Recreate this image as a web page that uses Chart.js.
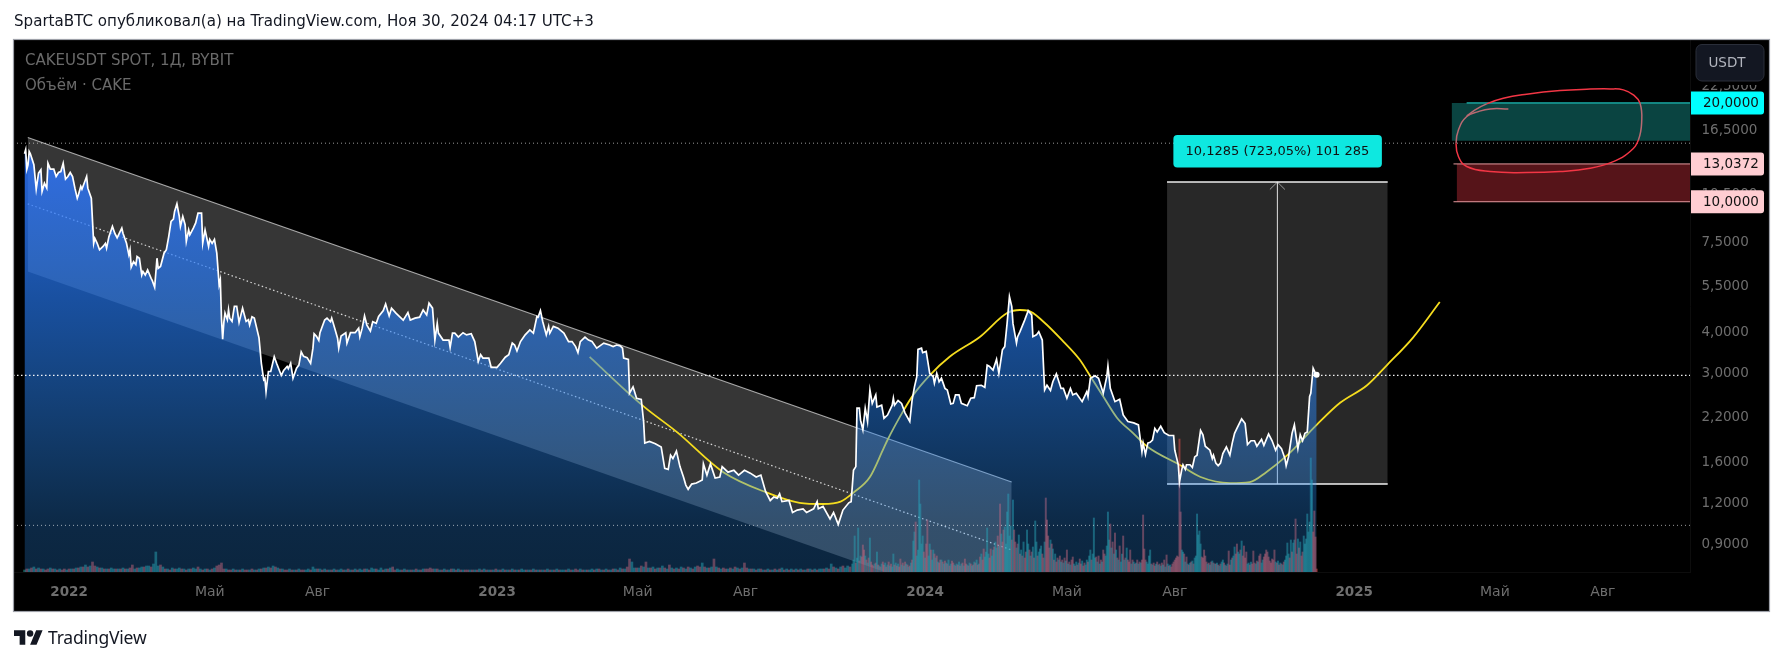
<!DOCTYPE html>
<html>
<head>
<meta charset="utf-8">
<title>CAKEUSDT</title>
<script src="https://cdn.jsdelivr.net/npm/chart.js@4/dist/chart.umd.min.js"></script>
<style>
  html, body { margin: 0; padding: 0; background: #fff; }
  #wrap { position: relative; width: 1784px; height: 662px; overflow: hidden; }
  canvas { position: absolute; left: 0; top: 0; }
  #head { position: absolute; left: 14px; top: 12px; font: 15.1px "DejaVu Sans", sans-serif; color: #131722; white-space: nowrap; }
  #logo { position: absolute; left: 14px; top: 629px; width: 29px; height: 17px; }
  #brand { position: absolute; left: 48px; top: 625px; font: 17.5px "Noto Sans", sans-serif; color: #131722; letter-spacing: -0.2px; }
</style>
</head>
<body>
<div id="wrap">
  <canvas id="chart" width="1784" height="662"></canvas>
  <div id="head">SpartaBTC опубликовал(а) на TradingView.com, Ноя 30, 2024 04:17 UTC+3</div>
  <svg id="logo" viewBox="0 4 36 18"><path fill="#131722" d="M14 22H7V11H0V4h14v18zM28 22h-8l7.5-18h8L28 22z"/><circle fill="#131722" cx="20" cy="8" r="4"/></svg>
  <div id="brand">TradingView</div>
</div>
<script>
// x axis is days since 2022-01-01
var tickDays = [0, 120, 212, 365, 485, 577, 730, 851, 943, 1096, 1216, 1308];
var tickLabels = ["2022", "Май", "Авг", "2023", "Май", "Авг", "2024", "Май", "Авг", "2025", "Май", "Авг"];
var priceTicks = [22.5, 16.5, 10.5, 7.5, 5.5, 4, 3, 2.2, 1.6, 1.2, 0.9];

var priceDays = [
  -38,-37,-36,-35,-34,-33,-30,-28,-26,-24,-23,-21,-19,-18,-16,-13,-11,-9,-7,-5,-3,-1,1,3,5,7,8,10,11,15,16,19,
  21,22,24,26,29,31,32,34,37,39,41,45,46,49,51,52,53,55,57,58,60,62,63,65,67,70,71,73,75,76,78,81,83,85,87,89,90,92,94,95,97,99,100,102,103,106,108,110,113,114,116,119,120,122,124,126,128,129,130,131,
  132,133,135,136,137,139,141,143,145,148,151,153,154,156,158,162,164,166,167,168,170,172,175,177,181,183,186,187,189,191,194,196,198,200,203,206,208,209,211,213,214,
  218,220,223,224,227,229,230,232,236,237,240,244,247,248,250,252,254,257,259,262,264,268,270,273,275,279,285,289,291,295,299,302,305,307,310,312,314,315,319,324,325,327,329,332,336,339,343,346,349,351,353,358,360,
  365,368,372,375,378,380,382,385,389,393,396,399,400,402,404,407,409,410,413,417,422,426,429,432,434,436,440,443,446,450,456,461,464,467,470,
  472,473,477,478,481,484,488,490,491,495,500,505,508,511,513,515,518,521,524,526,528,531,535,540,541,544,547,551,555,557,562,567,571,576,581,586,590,594,598,601,604,606,608,614,617,621,626,629,635,638,639,643,649,652,656,660,665,667,669,671,672,
  674,675,677,679,681,683,685,688,689,693,695,698,702,703,704,707,710,713,717,719,721,723,724,727,728,731,734,737,738,740,742,744,747,749,752,754,756,759,761,766,769,772,774,778,781,783,785,788,791,793,796,798,800,802,804,805,808,809,811,815,818,821,822,825,827,830,832,834,837,839,842,846,848,851,854,856,859,864,868,869,871,875,878,882,885,886,888,892,896,899,903,908,912,915,916,918,920,
  922,924,926,928,931,934,938,942,943,946,947,949,950,952,953,956,958,960,962,965,967,969,973,975,976,978,980,982,984,987,990,992,994,996,1000,1003,1005,1008,1011,1013,1017,1019,1023,1026,1029,1031,1034,1037,1038,1040,1043,1045,1048,1050,1052,1054,1056,1058,1059,1061,1063,1064
];
var priceValues = [
  14.0,14.4,12.57,12.96,14.23,14.0,12.96,10.92,12.22,12.52,10.75,11.39,11.0,13.1,12.57,12.57,11.94,12.28,12.36,13.1,11.72,11.94,12.28,11.94,11.0,10.25,10.5,11.14,10.92,11.94,11.0,10.25,
  7.47,7.74,7.47,7.14,7.31,7.47,7.22,7.83,8.41,8.02,7.76,8.31,8.02,7.47,6.89,7.14,6.32,6.57,6.43,6.81,6.73,5.98,6.13,5.98,6.2,5.84,5.75,5.49,6.73,6.27,6.35,6.97,7.14,7.83,8.71,8.85,9.34,9.86,9.02,8.41,9.02,8.51,7.57,8.21,7.93,8.31,8.62,9.23,9.23,7.47,8.21,7.31,7.68,7.47,7.68,6.97,5.58,5.78,4.4,3.81,
  4.29,4.58,4.37,4.69,4.42,4.32,4.8,4.8,4.29,4.74,4.32,4.37,4.21,4.46,4.42,3.85,3.22,2.87,2.9,2.64,3.04,3.04,3.37,3.22,2.96,3.06,3.15,3.1,3.22,2.9,3.11,3.18,3.49,3.38,3.35,3.22,3.58,3.96,3.89,3.78,3.99,
  4.36,4.42,4.31,4.42,4.07,3.84,3.58,3.9,3.99,3.71,3.99,3.99,4.12,3.88,4.12,4.49,4.21,4.04,4.31,4.26,4.47,4.66,4.88,4.49,4.74,4.57,4.36,4.6,4.36,4.42,4.45,4.68,4.52,4.91,4.74,3.79,4.26,3.98,3.79,3.79,3.6,3.98,3.98,3.87,3.99,3.93,3.96,3.75,3.26,3.42,3.34,3.34,3.13,
  3.13,3.22,3.36,3.42,3.71,3.66,3.51,3.75,3.93,4.07,3.98,4.47,4.45,4.66,4.31,3.93,4.17,3.98,4.17,4.12,3.98,3.75,3.75,3.62,3.47,3.75,3.87,3.79,3.75,3.58,3.71,3.66,3.62,3.66,3.64,
  3.58,3.34,3.31,2.61,2.73,2.52,2.5,2.14,1.84,1.86,1.83,1.79,1.54,1.53,1.69,1.65,1.74,1.56,1.45,1.37,1.33,1.38,1.39,1.42,1.59,1.47,1.59,1.44,1.45,1.56,1.5,1.52,1.47,1.52,1.49,1.45,1.47,1.31,1.23,1.26,1.25,1.29,1.22,1.23,1.13,1.15,1.16,1.13,1.16,1.22,1.16,1.18,1.08,1.13,1.04,1.15,1.21,1.22,1.52,1.56,2.35,
  2.35,2.16,2.02,2.35,2.14,2.67,2.43,2.58,2.37,2.4,2.19,2.24,2.4,2.52,2.4,2.48,2.43,2.27,2.14,2.49,2.73,2.93,3.55,3.58,3.47,3.5,3.0,2.93,2.8,3.0,2.83,2.9,2.7,2.67,2.42,2.43,2.58,2.58,2.43,2.39,2.52,2.53,2.75,2.76,2.72,3.18,3.15,3.07,3.31,3.0,3.54,3.62,4.26,5.14,4.79,4.26,3.71,3.88,4.02,4.36,4.66,4.52,3.88,3.93,4.02,3.79,2.67,2.76,2.66,2.83,2.99,2.7,2.7,2.52,2.7,2.58,2.61,2.46,2.64,2.55,2.9,2.95,2.9,2.61,2.93,3.16,2.7,2.46,2.5,2.24,2.14,2.12,2.09,1.73,1.84,1.7,1.84,
  1.85,1.88,2.04,1.99,2.07,1.98,1.94,1.94,1.75,1.58,1.4,1.53,1.58,1.53,1.58,1.58,1.55,1.67,1.69,2.01,1.95,1.8,1.75,1.65,1.69,1.6,1.57,1.6,1.71,1.79,1.69,1.84,1.97,2.04,2.18,2.11,1.82,1.87,1.87,1.8,1.89,1.81,1.96,1.87,1.75,1.82,1.77,1.65,1.57,1.67,1.97,2.09,1.77,1.95,1.87,1.97,1.99,2.55,2.61,3.11,3.0,2.97
];

// volume, negative = down day. first block every 2nd day from day -38, second block every day from day 668
var volumeEarly = [
  2,-3,3,-4,5,-3,4,-3,3,-2,
  -3,4,-3,3,-2,3,-2,-3,2,-3,
  3,-3,4,-4,5,-5,7,-5,6,-10,
  -6,5,-4,4,-3,3,-3,4,3,-3,
  3,-3,4,-3,3,-4,-7,3,-4,4,
  5,-5,6,6,-5,8,20,6,-7,5,
  -3,3,-2,4,-3,3,4,-3,3,-2,
  3,-3,4,3,-5,3,-2,3,-3,2,
  -3,4,-6,-7,-9,-3,3,-2,-2,3,
  -2,2,-2,3,-2,-2,2,-3,2,-2,
  3,-3,4,-4,5,-4,6,-5,4,-3,
  3,-2,-2,3,-2,2,-2,3,-2,-2,
  2,3,-2,5,3,-3,3,-2,3,-2,
  2,-2,3,-2,2,3,-2,2,-3,2,
  -2,3,-2,3,2,-3,3,-2,4,3,
  -3,2,4,-2,3,-3,4,-5,-2,3,
  2,-2,3,-2,2,-2,2,-3,2,-2,
  3,-3,-3,-4,-3,3,-3,2,-2,3,
  -2,2,-3,3,-2,3,-2,2,-2,-2,
  2,-2,2,-2,3,-2,3,-2,2,-2,
  2,-3,2,-2,3,-2,2,-2,3,-2,
  2,-2,3,2,-2,2,-2,3,-2,2,
  -2,2,-2,3,-2,2,-2,3,-2,2,
  2,-2,3,-2,2,-3,-2,3,-2,2,
  -2,2,3,-2,3,-3,2,-2,3,-2,
  2,-3,3,-2,4,-3,3,-5,-13,10,
  4,-4,4,-6,5,-10,4,-4,5,-3,
  4,-4,6,-4,3,-7,4,-3,4,-3,
  5,-4,3,-5,4,-3,5,-6,-5,9,
  -5,4,-4,5,-13,5,-4,3,-4,-3,
  3,-4,3,-5,4,-3,4,-9,-4,3,
  -3,3,-2,3,-3,2,-2,3,-2,2,
  -3,2,-3,4,-2,3,-2,3,-2,3,
  -2,3,-2,2,-3,3,-2,3,-2,3,
  3,-3,4,-3,8,-5,4,-3,5,-6,
  4,6,-5
];
var volumeLate = [
  8,12,36,-9,14,44,-11,16,-15,-27,
  -22,16,-12,9,-14,34,-10,-7,-6,8,
  -9,20,-7,6,-5,8,-10,-7,9,-5,
  7,-10,6,-8,5,18,-7,9,-6,8,
  -5,-13,7,-9,6,-10,8,-7,5,-6,
  9,-12,31,40,-50,16,22,92,68,28,
  36,-20,14,-28,-52,16,28,-22,12,22,
  -18,14,-16,10,-9,-12,12,-10,8,-11,
  9,-8,12,-6,8,-11,-9,7,-6,8,
  -7,10,-6,8,-9,6,-13,-8,7,-6,
  9,-8,6,-7,10,-9,12,-7,8,-15,
  18,-12,-23,15,20,44,18,-14,-23,16,
  22,-25,30,24,-36,26,-68,38,-30,-42,
  45,28,60,78,36,46,-32,72,-42,-30,
  24,-28,37,-18,22,-16,30,-14,-20,42,
  28,-22,16,-20,25,-14,51,30,-16,20,
  23,26,-18,-14,30,-74,-52,-36,-24,32,
  -28,23,-12,18,-10,-14,12,-16,10,-12,
  9,-14,11,-22,8,-10,7,-12,-15,8,
  -6,10,-7,9,-13,-8,11,-6,-9,7,
  12,-10,16,22,-12,18,54,14,-15,10,
  -16,8,-12,10,-22,-18,16,26,60,32,
  -48,24,-30,18,-39,22,-14,12,-26,10,
  18,-36,12,-14,24,-12,-10,-22,8,-12,
  10,-8,9,-12,8,-10,9,-12,-57,-23,
  -12,10,8,16,22,-8,7,-9,-6,8,
  -10,7,-8,6,-9,7,-12,5,-17,8,
  -6,7,-5,-8,-10,-12,-14,-16,-15,-133,
  -60,22,20,-18,10,-15,8,-7,9,-10,
  11,-8,14,16,58,37,41,28,-15,-14,
  -22,-16,-10,8,-9,7,-10,11,-9,8,
  -8,9,-7,6,-8,10,12,-9,7,-6,
  8,-21,-7,12,-14,16,25,-18,-28,20,
  18,-22,31,-16,-26,-14,-20,8,9,-7,
  10,-8,-21,-9,8,-11,10,-16,-18,9,
  12,-15,-18,-22,-20,-15,-11,-9,-13,-12,
  -22,10,-9,11,-7,9,-8,7,-10,12,
  16,29,18,-14,32,-20,29,32,-53,-18,
  33,-24,30,-16,-20,36,28,33,58,40,
  50,114,92,-40,-61,-35,-3
];

// the drawn curve (brush)
var curveDays = [444,453,490,519,558,595,623,643,658,669,683,694,698,711,720,734,751,777,800,811,818,831,848,862,872,882,894,907,920,947,965,990,1007,1021,1039,1064,1084,1107,1124,1146,1169];
var curveValues = [3.37,3.14,2.38,1.98,1.5,1.3,1.21,1.2,1.22,1.3,1.45,1.75,1.88,2.29,2.58,2.96,3.37,3.88,4.58,4.68,4.66,4.31,3.75,3.3,2.9,2.55,2.19,1.98,1.79,1.58,1.45,1.39,1.4,1.5,1.69,2.09,2.44,2.76,3.18,3.85,4.95];

// red circle around the target zone
var circleDays = [1227.5,1211.9,1201.9,1192,1184.9,1182.9,1184.9,1192,1211.9,1243.1,1271.6,1297.2,1317,1331.3,1338.4,1341.2,1339.8,1334.1,1325.6,1314.2,1294.3,1271.6,1243.1,1223.2,1209,1199.1,1192];
var circleValues = [19.18,19.18,18.82,18.18,16.55,15.07,13.73,12.8,12.36,12.27,12.36,12.65,13.25,14.22,15.43,17.55,19.96,21.16,21.92,22.07,22.02,21.81,21.26,20.67,19.87,19.05,18.26];

// falling channel
var channelDays = [-35.2, 803.9];
var channelTop = [15.69, 1.40];
var channelMid = [9.85, 0.869];
var channelBottom = [6.13, 0.545];

// price range tool
var rangeDays = [936.4, 1124.6];
var rangeArrowDay = 1030.5;
var rangeHigh = 11.48;
var rangeLow = 1.38;
var rangeArrowHead = 10.9;
var rangeArrowHalf = 6.4;
var rangeText = "10,1285 (723,05%) 101 285";

// zones on the right, dotted levels
var targetDays = [1179.1, 1382.4];
var targetTop = 20;
var targetBottom = 15.33;
var stopDays = [1183.4, 1382.4];
var stopTop = 13.0372;
var stopBottom = 10;
var levelsDim = [15.08, 1.033];
var levelMain = 2.96;

var xMin = -47.8, xMax = 1382.4, yMin = 0.7447, yMax = 31.1;
var lastDay = priceDays[priceDays.length - 1];

function pairs(xs, ys) {
  return xs.map(function (x, i) { return {x: x, y: ys[i]}; });
}
function fmt(v) {
  return v.toFixed(4).replace(".", ",");
}
function flat(days, value, color, order, dash, width) {
  return {
    type: "line", data: pairs(days, [value, value]), borderColor: color, borderWidth: width || 1,
    borderDash: dash || [], pointRadius: 0, order: order, yAxisID: "y", tension: 0
  };
}
function zone(days, top, bottom, color, order) {
  return {
    type: "line", data: pairs(days, [top, top]), borderWidth: 0, borderColor: "transparent",
    backgroundColor: color, fill: {value: bottom}, pointRadius: 0, order: order, yAxisID: "y"
  };
}
function bars(start, step, values, thickness) {
  return {
    type: "bar", yAxisID: "v", order: 10, grouped: false, barThickness: thickness,
    data: values.map(function (v, i) { return {x: start + i * step, y: Math.abs(v)}; }),
    backgroundColor: values.map(function (v) {
      return v < 0 ? "rgba(239,83,80,0.5)" : "rgba(38,166,154,0.5)";
    })
  };
}

// higher order = drawn further below. the area is see-through, more so towards the bottom
var datasets = [
  {
    type: "line", data: pairs(priceDays, priceValues), borderColor: "#ffffff", borderWidth: 1.7,
    pointRadius: 0, tension: 0, fill: "start", order: 9, yAxisID: "y",
    backgroundColor: function (ctx) {
      var area = ctx.chart.chartArea;
      if (!area) return "#1a4f9f";
      var g = ctx.chart.ctx.createLinearGradient(0, 140, 0, area.bottom);
      g.addColorStop(0, "rgba(48,117,255,0.87)");
      g.addColorStop(0.37, "rgba(39,125,250,0.64)");
      g.addColorStop(0.9, "rgba(44,148,252,0.27)");
      g.addColorStop(1, "rgba(44,150,250,0.25)");
      return g;
    }
  },
  bars(-38, 2, volumeEarly, 2),
  bars(668, 1, volumeLate, 1.3),
  zone(targetDays, targetTop, targetBottom, "#0a4441", 15),
  zone(stopDays, stopTop, stopBottom, "#561419", 15),
  flat([1191.9, xMax], targetTop, "#22e6de", 14),
  flat([1180.7, xMax], stopTop, "#e79a9f", 14),
  flat([1180.7, xMax], stopBottom, "#e79a9f", 14),
  // range tool
  zone(rangeDays, rangeHigh, rangeLow, "rgba(255,255,255,0.155)", 14),
  flat(rangeDays, rangeHigh, "#ededed", 11, [], 1.4),
  flat(rangeDays, rangeLow, "#f2f2f2", 11, [], 1.4),
  {
    type: "line", data: [{x: rangeArrowDay, y: rangeLow}, {x: rangeArrowDay, y: rangeHigh}],
    borderColor: "#e0e0e0", borderWidth: 1, pointRadius: 0, order: 11, yAxisID: "y"
  },
  {
    type: "line", order: 11, yAxisID: "y", borderColor: "#9a9a9a", borderWidth: 1, pointRadius: 0,
    data: [{x: rangeArrowDay - rangeArrowHalf, y: rangeArrowHead}, {x: rangeArrowDay, y: rangeHigh}, {x: rangeArrowDay + rangeArrowHalf, y: rangeArrowHead}]
  },
  // channel
  {
    type: "line", data: pairs(channelDays, channelTop), borderColor: "rgba(255,255,255,0.62)", borderWidth: 1.2,
    backgroundColor: "rgba(255,255,255,0.21)", fill: "+1", pointRadius: 0, order: 13, yAxisID: "y"
  },
  {
    type: "line", data: pairs(channelDays, channelBottom), borderWidth: 0, borderColor: "transparent",
    pointRadius: 0, order: 13, yAxisID: "y"
  },
  {
    type: "line", data: pairs(channelDays, channelMid), borderColor: "rgba(255,255,255,0.8)", borderWidth: 1.2,
    borderDash: [1.5, 2.5], pointRadius: 0, order: 12, yAxisID: "y"
  },
  // levels
  flat([xMin, xMax], levelsDim[0], "rgba(255,255,255,0.6)", 4, [1, 3]),
  flat([xMin, xMax], levelsDim[1], "rgba(255,255,255,0.6)", 4, [1, 3]),
  flat([xMin, xMax], levelMain, "rgba(255,255,255,0.95)", 4, [1.5, 2.5], 1.2),
  // yellow curve runs under the area
  {
    type: "line", data: pairs(curveDays, curveValues), borderColor: "#f5dc1e", borderWidth: 1.8,
    pointRadius: 0, cubicInterpolationMode: "monotone", order: 11, yAxisID: "y"
  },
  // red circle, paler over the teal zone
  {
    type: "line", data: pairs(circleDays, circleValues), borderColor: "#f23645", borderWidth: 1.5,
    pointRadius: 0, tension: 0.45, order: 2, yAxisID: "y",
    segment: {
      borderColor: function (ctx) {
        var v = (ctx.p0.parsed.y + ctx.p1.parsed.y) / 2;
        return (v > targetBottom && v < targetTop) ? "#b96a72" : "#f23645";
      }
    }
  },
  // last price dot
  {
    type: "line", data: [{x: lastDay, y: priceValues[priceValues.length - 1]}], pointRadius: 3,
    pointBackgroundColor: "#ffffff", pointBorderWidth: 0, order: 1, yAxisID: "y", showLine: false
  }
];

function roundBox(c, x, y, w, h, radii, fill, stroke) {
  c.beginPath();
  c.roundRect(x, y, w, h, radii);
  c.fillStyle = fill;
  c.fill();
  if (stroke) {
    c.strokeStyle = stroke;
    c.lineWidth = 1;
    c.stroke();
  }
}

var framePlugin = {
  id: "frame",
  beforeDraw: function (chart) {
    var c = chart.ctx;
    c.save();
    c.fillStyle = "#000";
    c.fillRect(13, 40, 1756, 572);
    c.restore();
  },
  afterDraw: function (chart) {
    var c = chart.ctx, y = chart.scales.y, x = chart.scales.x;
    c.save();
    c.strokeStyle = "#9ea1a9";
    c.lineWidth = 1.2;
    c.strokeRect(13.5, 39.5, 1756, 572);

    // legend
    c.textBaseline = "middle";
    c.textAlign = "left";
    c.fillStyle = "#6a6a6a";
    c.font = '15px "DejaVu Sans"';
    c.fillText("CAKEUSDT SPOT, 1Д, BYBIT", 25, 61);
    c.fillText("Объём · CAKE", 25, 86);

    // currency button, its strip hides the top of the highest tick
    c.fillStyle = "#000";
    c.fillRect(1691, 41, 77, 44);
    roundBox(c, 1696, 44.5, 68, 36.5, 6, "#131722", "#2a2e39");
    c.fillStyle = "#b2b5be";
    c.font = '13.5px "DejaVu Sans"';
    c.textAlign = "center";
    c.fillText("USDT", 1727, 63);

    // price tags
    c.textAlign = "left";
    c.font = '13.5px "DejaVu Sans"';
    [[targetTop, "#00ffff"], [stopTop, "#ffcdd2"], [stopBottom, "#ffcdd2"]].forEach(function (t) {
      var py = y.getPixelForValue(t[0]);
      roundBox(c, 1691, py - 11.5, 73, 23, [0, 3, 3, 0], t[1]);
      c.fillStyle = "#111";
      c.fillText(fmt(t[0]), 1703, py + 0.5);
    });

    // range tool label
    var cx = x.getPixelForValue(rangeArrowDay), top = y.getPixelForValue(rangeHigh);
    roundBox(c, cx - 104, top - 47, 208.5, 32.5, 4, "#0ee8e0");
    c.fillStyle = "#111";
    c.textAlign = "center";
    c.font = '13px "DejaVu Sans"';
    c.fillText(rangeText, cx, top - 30.5);
    c.restore();
  }
};

new Chart(document.getElementById("chart"), {
  data: {datasets: datasets},
  plugins: [framePlugin],
  options: {
    responsive: false,
    animation: false,
    events: [],
    layout: {padding: {left: 13, top: 40, right: 15, bottom: 50}},
    plugins: {legend: {display: false}, tooltip: {enabled: false}},
    scales: {
      x: {
        type: "linear", min: xMin, max: xMax, bounds: "data", offset: false,
        grid: {display: false, drawTicks: false, tickLength: 0}, border: {color: "#0d0d0d"},
        afterBuildTicks: function (s) { s.ticks = tickDays.map(function (d) { return {value: d}; }); },
        afterFit: function (s) { s.height = 40; },
        ticks: {
          autoSkip: false, maxRotation: 0, padding: 12, color: "#6e6e6e",
          callback: function (v) { return tickLabels[tickDays.indexOf(v)]; },
          font: function (ctx) {
            var year = ctx.tick && /^\d+$/.test(tickLabels[tickDays.indexOf(ctx.tick.value)]);
            return {family: '"DejaVu Sans"', size: year ? 13.5 : 14, weight: year ? "bold" : "normal"};
          }
        }
      },
      y: {
        type: "logarithmic", position: "right", min: yMin, max: yMax, bounds: "data",
        grid: {display: false, drawTicks: false, tickLength: 0}, border: {color: "#0d0d0d"},
        afterBuildTicks: function (s) { s.ticks = priceTicks.map(function (v) { return {value: v}; }); },
        afterFit: function (s) { s.width = 79; },
        ticks: {
          padding: 11.5, color: "#6e6e6e", autoSkip: false,
          font: {family: '"DejaVu Sans"', size: 13.5},
          callback: function (v) { return fmt(v); }
        }
      },
      v: {type: "linear", display: false, min: 0, max: 532}
    }
  }
});
</script>
</body>
</html>
